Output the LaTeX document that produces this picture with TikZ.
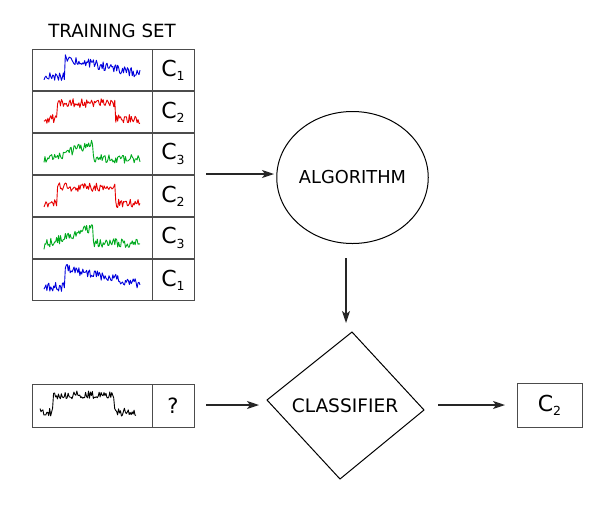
\documentclass[tikz,border=0pt]{standalone}
\usepackage{fontspec}
\setmainfont{DejaVu Sans}
\usetikzlibrary{arrows.meta,shapes.geometric}
\tikzset{
  cell/.style={draw=black!70, line width=1pt},
  conn/.style={draw=black!85, line width=1.3pt, -{Stealth[length=12pt,width=8pt,inset=3pt]}},
  shapeline/.style={draw=black, line width=1pt},
  sigline/.style={line width=0.9pt, line join=round},
  lbl/.style={font=\fontsize{22}{24}\selectfont},
  big/.style={font=\fontsize{17.8}{20}\selectfont},
}
\definecolor{sigblue}{RGB}{0,0,220}
\definecolor{sigred}{RGB}{230,0,0}
\definecolor{siggreen}{RGB}{0,170,30}
\newcommand{\clab}[1]{C\raisebox{-0.35ex}{\fontsize{12.5}{13}\selectfont #1}}
% signal macros: #1 colour, #2 row top y
\newcommand{\sigone}[2]{\draw[sigline,#1] plot[domain=44:140,samples=100]
  (\x,{#2+28 - (\x>=65)*(19 - (\x-65)/75*16) + 4.5*rand});}
\newcommand{\sigtwo}[2]{\draw[sigline,#1] plot[domain=44:140,samples=100]
  (\x,{#2+28 - (\x>=57)*(\x<115)*16 + 4.5*rand});}
\newcommand{\sigthree}[2]{\draw[sigline,#1] plot[domain=44:140,samples=100]
  (\x,{#2+28 - (\x<93)*((\x-44)/49*18) + (\x>=93)*(-2) + 4.5*rand});}
\begin{document}
\begin{tikzpicture}[x=1pt,y=-1pt]
\useasboundingbox (0,0) rectangle (605,507);
\pgfmathsetseed{4242}
% title
\node[font=\fontsize{18.2}{20}\selectfont] (title) at (112,31) {TRAINING SET};
% training table
\foreach \r/\t in {0/49,1/91,2/133,3/175,4/217,5/259}{
  \pgfmathsetmacro{\b}{\t+41.8}
  \draw[cell] (32,\t) rectangle (152,\b);
  \draw[cell] (152,\t) rectangle (194,\b);
}
\node[lbl] (c1a) at (173,70) {\clab{1}};
\node[lbl] (c2a) at (173,112) {\clab{2}};
\node[lbl] (c3a) at (173,154) {\clab{3}};
\node[lbl] (c2b) at (173,196) {\clab{2}};
\node[lbl] (c3b) at (173,238) {\clab{3}};
\node[lbl] (c1b) at (173,280) {\clab{1}};
\sigone{sigblue}{49}
\sigtwo{sigred}{91}
\sigthree{siggreen}{133}
\sigtwo{sigred}{175}
\sigthree{siggreen}{217}
\sigone{sigblue}{259}
% test sample
\draw[cell] (32,384) rectangle (152,427);
\draw[cell] (152,384) rectangle (194,427);
\node[lbl, font=\fontsize{21}{22}\selectfont] (q) at (173,405.5) {?};
\draw[sigline,black] plot[domain=40:136,samples=100]
  (\x,{412 - (\x>=53)*(\x<114)*17 + 4*rand});
% algorithm
\node[shapeline, ellipse, minimum width=145pt, minimum height=132pt, inner sep=0pt, big] (alg) at (352.5,177.5) {ALGORITHM};
% classifier diamond
\coordinate (dT) at (352,332);
\coordinate (dR) at (424,410);
\coordinate (dB) at (340,479);
\coordinate (dL) at (267,400);
\draw[shapeline, line join=miter] (dT) -- (dR) -- (dB) -- (dL) -- cycle;
\node[font=\fontsize{18.6}{20}\selectfont] (cls) at (345,406) {CLASSIFIER};
% result
\node[cell, minimum width=65pt, minimum height=44pt, inner sep=0pt, lbl] (res) at (549.5,405) {\clab{2}};
% connectors
\coordinate (a1s) at (206,174);
\coordinate (a1e) at (274,174);
\draw[conn] (a1s) -- (a1e);
\coordinate (a2s) at (346,258);
\coordinate (a2e) at (346,323);
\draw[conn] (a2s) -- (a2e);
\coordinate (a3s) at (206,405);
\coordinate (a3e) at (259,405);
\draw[conn] (a3s) -- (a3e);
\coordinate (a4s) at (438,405);
\coordinate (a4e) at (505,405);
\draw[conn] (a4s) -- (a4e);
\end{tikzpicture}
\end{document}
